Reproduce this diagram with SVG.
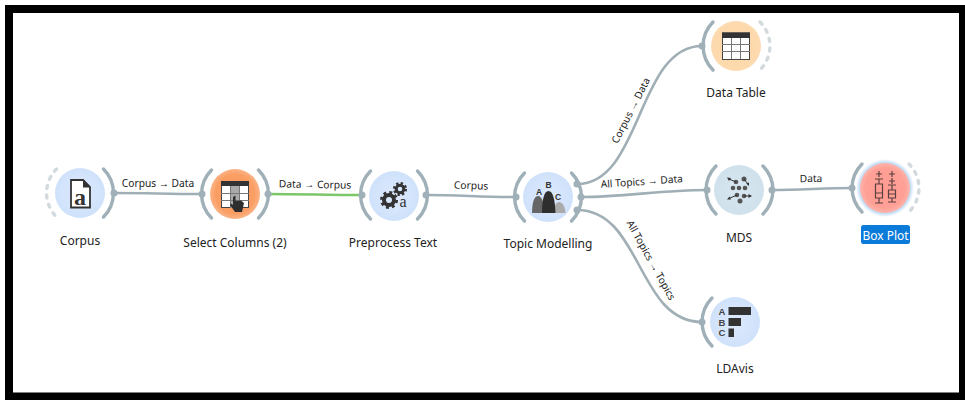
<svg xmlns="http://www.w3.org/2000/svg" width="965" height="400" viewBox="0 0 965 400">
<style>
.lbl{font-family:"Noto Sans","Liberation Sans",sans-serif;font-size:12px;fill:#222;text-anchor:middle}
.elbl{font-family:"Noto Sans","Liberation Sans",sans-serif;font-size:10.2px;fill:#222;text-anchor:middle}
.edge{fill:none;stroke:#a0afb6;stroke-width:2.6}
.arc{fill:none;stroke:#9fb0b8;stroke-width:3.4;stroke-linecap:round}
.dash{fill:none;stroke:#d3dade;stroke-width:3.4;stroke-linecap:round;stroke-dasharray:3 6.5}
.dot{fill:#9fb0b8}
</style>
<defs>
<radialGradient id="blue"><stop offset="0" stop-color="#dde9fd"/><stop offset="1" stop-color="#cfe2fb"/></radialGradient>
<radialGradient id="orange"><stop offset="0" stop-color="#f99a5e"/><stop offset="0.78" stop-color="#fa9e64"/><stop offset="1" stop-color="#fbb386"/></radialGradient>
<radialGradient id="peach"><stop offset="0" stop-color="#fdd4a0"/><stop offset="1" stop-color="#fddbb0"/></radialGradient>
<radialGradient id="teal"><stop offset="0" stop-color="#d8e6f0"/><stop offset="1" stop-color="#cfe1ec"/></radialGradient>
<radialGradient id="red"><stop offset="0" stop-color="#ff9c92"/><stop offset="0.8" stop-color="#ffa096"/><stop offset="1" stop-color="#ffb5ac"/></radialGradient>
<radialGradient id="glow"><stop offset="0.8" stop-color="#9cc8f0"/><stop offset="1" stop-color="#9cc8f0" stop-opacity="0"/></radialGradient>
</defs>
<rect x="0" y="0" width="965" height="400" fill="#fff"/>
<path d="M5 5H965V400H5Z M13 13V392.500H959V13Z" fill="#000" fill-rule="evenodd"/>
<g id="connectors">
<path class="edge" d="M114 193C150 193 165 194 202 194"/>
<path class="edge" d="M268 194C305 194 325 195 362 195" style="stroke:#7cc76a"/>
<path class="edge" d="M426 195C460 195 480 197 516 197"/>
<path class="edge" d="M577 184C642 184 637 46 702 46"/>
<path class="edge" d="M581 197C625 197 660 190 707 190"/>
<path class="edge" d="M772 190C800 190 825 188 852 188"/>
<path class="edge" d="M577 210C642 210 637 322 702 322"/>
<text class="elbl" x="158" y="187">Corpus → Data</text>
<text class="elbl" x="315" y="188" transform="rotate(1 315 188)">Data → Corpus</text>
<text class="elbl" x="471" y="189" transform="rotate(2 471 189)">Corpus</text>
<text class="elbl" transform="translate(634 112) rotate(-63)">Corpus → Data</text>
<text class="elbl" transform="translate(642 185) rotate(-4)">All Topics → Data</text>
<text class="elbl" transform="translate(648 262) rotate(61)">All Topics → Topics</text>
<text class="elbl" transform="translate(811 182) rotate(-1)">Data</text>
</g>
<g id="corpus">
<path class="dash" d="M56.500 169A34 34 0 0 0 56.500 217"/>
<path class="arc" d="M103.500 169A34 34 0 0 1 103.500 217"/>
<circle class="dot" cx="114" cy="193" r="3.500"/>
<circle cx="80" cy="193" r="25" fill="url(#blue)"/>
<path d="M71 180H83L90 187V207.500H71Z" fill="#fff" stroke="#333" stroke-width="1.800"/>
<path d="M83 179V187.500H91Z" fill="#333"/>
<text x="80" y="205" font-family="Liberation Serif,serif" font-weight="bold" font-size="24" fill="#333" text-anchor="middle">a</text>
<text class="lbl" x="80" y="245">Corpus</text>
</g>
<g id="select-columns">
<path class="arc" d="M211.500 170A34 34 0 0 0 211.500 218"/>
<path class="arc" d="M258.500 170A34 34 0 0 1 258.500 218"/>
<circle class="dot" cx="202" cy="194" r="3.500"/>
<circle class="dot" cx="268" cy="194" r="3.500"/>
<circle cx="235" cy="194" r="25" fill="url(#orange)"/>
<rect x="221.500" y="181.500" width="27" height="26" fill="#fff" stroke="#444" stroke-width="1"/>
<rect x="221" y="181" width="28" height="5" fill="#333"/>
<rect x="231" y="186" width="8.500" height="22" fill="#aaa"/>
<path d="M221 193.500H249M221 200.500H249M230.500 186V208M239.500 186V208" stroke="#777" stroke-width="1" fill="none"/>
<path d="M233 197L235.500 195.500V201L241 200.500L244 203L242 212H235L230 205L231 203.500L233 205Z" fill="#2e2e2e"/>
<text class="lbl" x="235" y="247">Select Columns (2)</text>
</g>
<g id="preprocess-text">
<path class="arc" d="M370.500 171A34 34 0 0 0 370.500 219"/>
<path class="arc" d="M417.500 171A34 34 0 0 1 417.500 219"/>
<circle class="dot" cx="362" cy="195" r="3.500"/>
<circle class="dot" cx="426" cy="195" r="3.500"/>
<circle cx="394" cy="196" r="25" fill="url(#blue)"/>
<circle cx="389" cy="200" r="5" fill="none" stroke="#333" stroke-width="4"/>
<circle cx="389" cy="200" r="7.500" fill="none" stroke="#333" stroke-width="3" stroke-dasharray="2.900 3"/>
<circle cx="400" cy="189" r="3.800" fill="none" stroke="#333" stroke-width="3"/>
<circle cx="400" cy="189" r="5.800" fill="none" stroke="#333" stroke-width="2.500" stroke-dasharray="2.300 2.250"/>
<text x="403" y="207" font-family="Liberation Serif,serif" font-size="16" fill="#333" text-anchor="middle">a</text>
<text class="lbl" x="393" y="247">Preprocess Text</text>
</g>
<g id="topic-modelling">
<path class="arc" d="M524.500 173A34 34 0 0 0 524.500 221"/>
<path class="arc" d="M571.500 173A34 34 0 0 1 571.500 221"/>
<circle class="dot" cx="516" cy="197" r="3.500"/>
<circle class="dot" cx="577" cy="184" r="3.500"/>
<circle class="dot" cx="581" cy="197" r="3.500"/>
<circle class="dot" cx="577" cy="210" r="3.500"/>
<circle cx="548" cy="197" r="25" fill="url(#blue)"/>
<path d="M532 213C532 203 534 196 538 196C542 196 544 203 545 213Z" fill="#666"/>
<path d="M553 213C554 206 556 202 559 202C563 202 565 207 565.500 213Z" fill="#aaa"/>
<path d="M542 213C542 200 544 191 548.500 191C553 191 555 200 555.500 213Z" fill="#2e2e2e"/>
<g font-family="Liberation Sans,sans-serif" font-weight="bold" font-size="8.500" fill="#333" text-anchor="middle"><text x="539" y="195">A</text><text x="548.500" y="188">B</text><text x="558" y="200">C</text></g>
<text class="lbl" x="548" y="248">Topic Modelling</text>
</g>
<g id="data-table">
<path class="arc" d="M713 22A34 34 0 0 0 713 70"/>
<path class="dash" d="M760 22A34 34 0 0 1 760 70"/>
<circle class="dot" cx="702" cy="46" r="3.500"/>
<circle cx="736" cy="46" r="25" fill="url(#peach)"/>
<rect x="722.500" y="33" width="27" height="26.500" fill="#fff" stroke="#444" stroke-width="1"/>
<rect x="722" y="32.500" width="28" height="5.500" fill="#333"/>
<path d="M722 44.500H750M722 51.500H750M731.500 38V59M740.500 38V59" stroke="#777" stroke-width="1" fill="none"/>
<text class="lbl" x="736" y="97">Data Table</text>
</g>
<g id="mds">
<path class="arc" d="M716 166A34 34 0 0 0 716 214"/>
<path class="arc" d="M763 166A34 34 0 0 1 763 214"/>
<circle class="dot" cx="707" cy="190" r="3.500"/>
<circle class="dot" cx="772" cy="190" r="3.500"/>
<circle cx="739" cy="190" r="25" fill="url(#teal)"/>
<g fill="#555"><circle cx="744" cy="179" r="2.500"/><circle cx="736" cy="182" r="2.300"/><circle cx="733" cy="188" r="2.300"/><circle cx="739" cy="188" r="2.300"/><circle cx="745" cy="188" r="2.300"/><circle cx="737" cy="195" r="2.300"/><circle cx="744" cy="196" r="2.300"/><circle cx="740" cy="201" r="2.500"/></g>
<path d="M729 179L736 182M744 179L748 184M729 198.500L737 195M744 196L749 196" stroke="#333" stroke-width="1" fill="none"/>
<path d="M727 177.500L731 178L729 181ZM749 186L746 183.500L749 182.500ZM727 199.500L729.500 196.500L731 199.500ZM752 196L748.500 194V198Z" fill="#333"/>
<text class="lbl" x="739" y="242">MDS</text>
</g>
<g id="box-plot">
<circle cx="885" cy="188" r="29" fill="url(#glow)"/>
<path class="arc" d="M862 164A34 34 0 0 0 862 212"/>
<path class="dash" d="M909 164A34 34 0 0 1 909 212"/>
<circle class="dot" cx="852" cy="188" r="3.500"/>
<circle cx="885" cy="188" r="25" fill="url(#red)"/>
<g fill="none" stroke="#5a4040" stroke-width="1.200">
<path d="M876 174H882M879 171V177M875 179H883M879 179V184M875.500 184H882.500V198H875.500ZM875.500 193H882.500M879 198V203M875 203H883"/>
<path d="M889 174H895M892 171V177M889 181H895M892 178V184M888 185H896M892 185V190M888.500 190H895.500V198H888.500ZM888.500 194H895.500M892 198V202M888 202H896"/>
</g>
<rect x="861" y="225" width="49" height="19" rx="2.500" fill="#0a7bd8"/>
<text class="lbl" x="885.500" y="239.500" style="fill:#fff">Box Plot</text>
</g>
<g id="ldavis">
<path class="arc" d="M712 298A34 34 0 0 0 712 346"/>
<circle class="dot" cx="702" cy="322" r="3.500"/>
<circle cx="735" cy="322" r="25" fill="url(#blue)"/>
<rect x="728.500" y="307" width="22.500" height="8" fill="#333"/>
<rect x="728.500" y="318" width="12.500" height="8" fill="#333"/>
<rect x="728.500" y="328.500" width="5.500" height="8.500" fill="#333"/>
<g font-family="Liberation Sans,sans-serif" font-weight="bold" font-size="9.500" fill="#444" text-anchor="middle"><text x="722" y="314.500">A</text><text x="722" y="325.500">B</text><text x="722" y="336">C</text></g>
<text class="lbl" x="735" y="373">LDAvis</text>
</g>
</svg>
